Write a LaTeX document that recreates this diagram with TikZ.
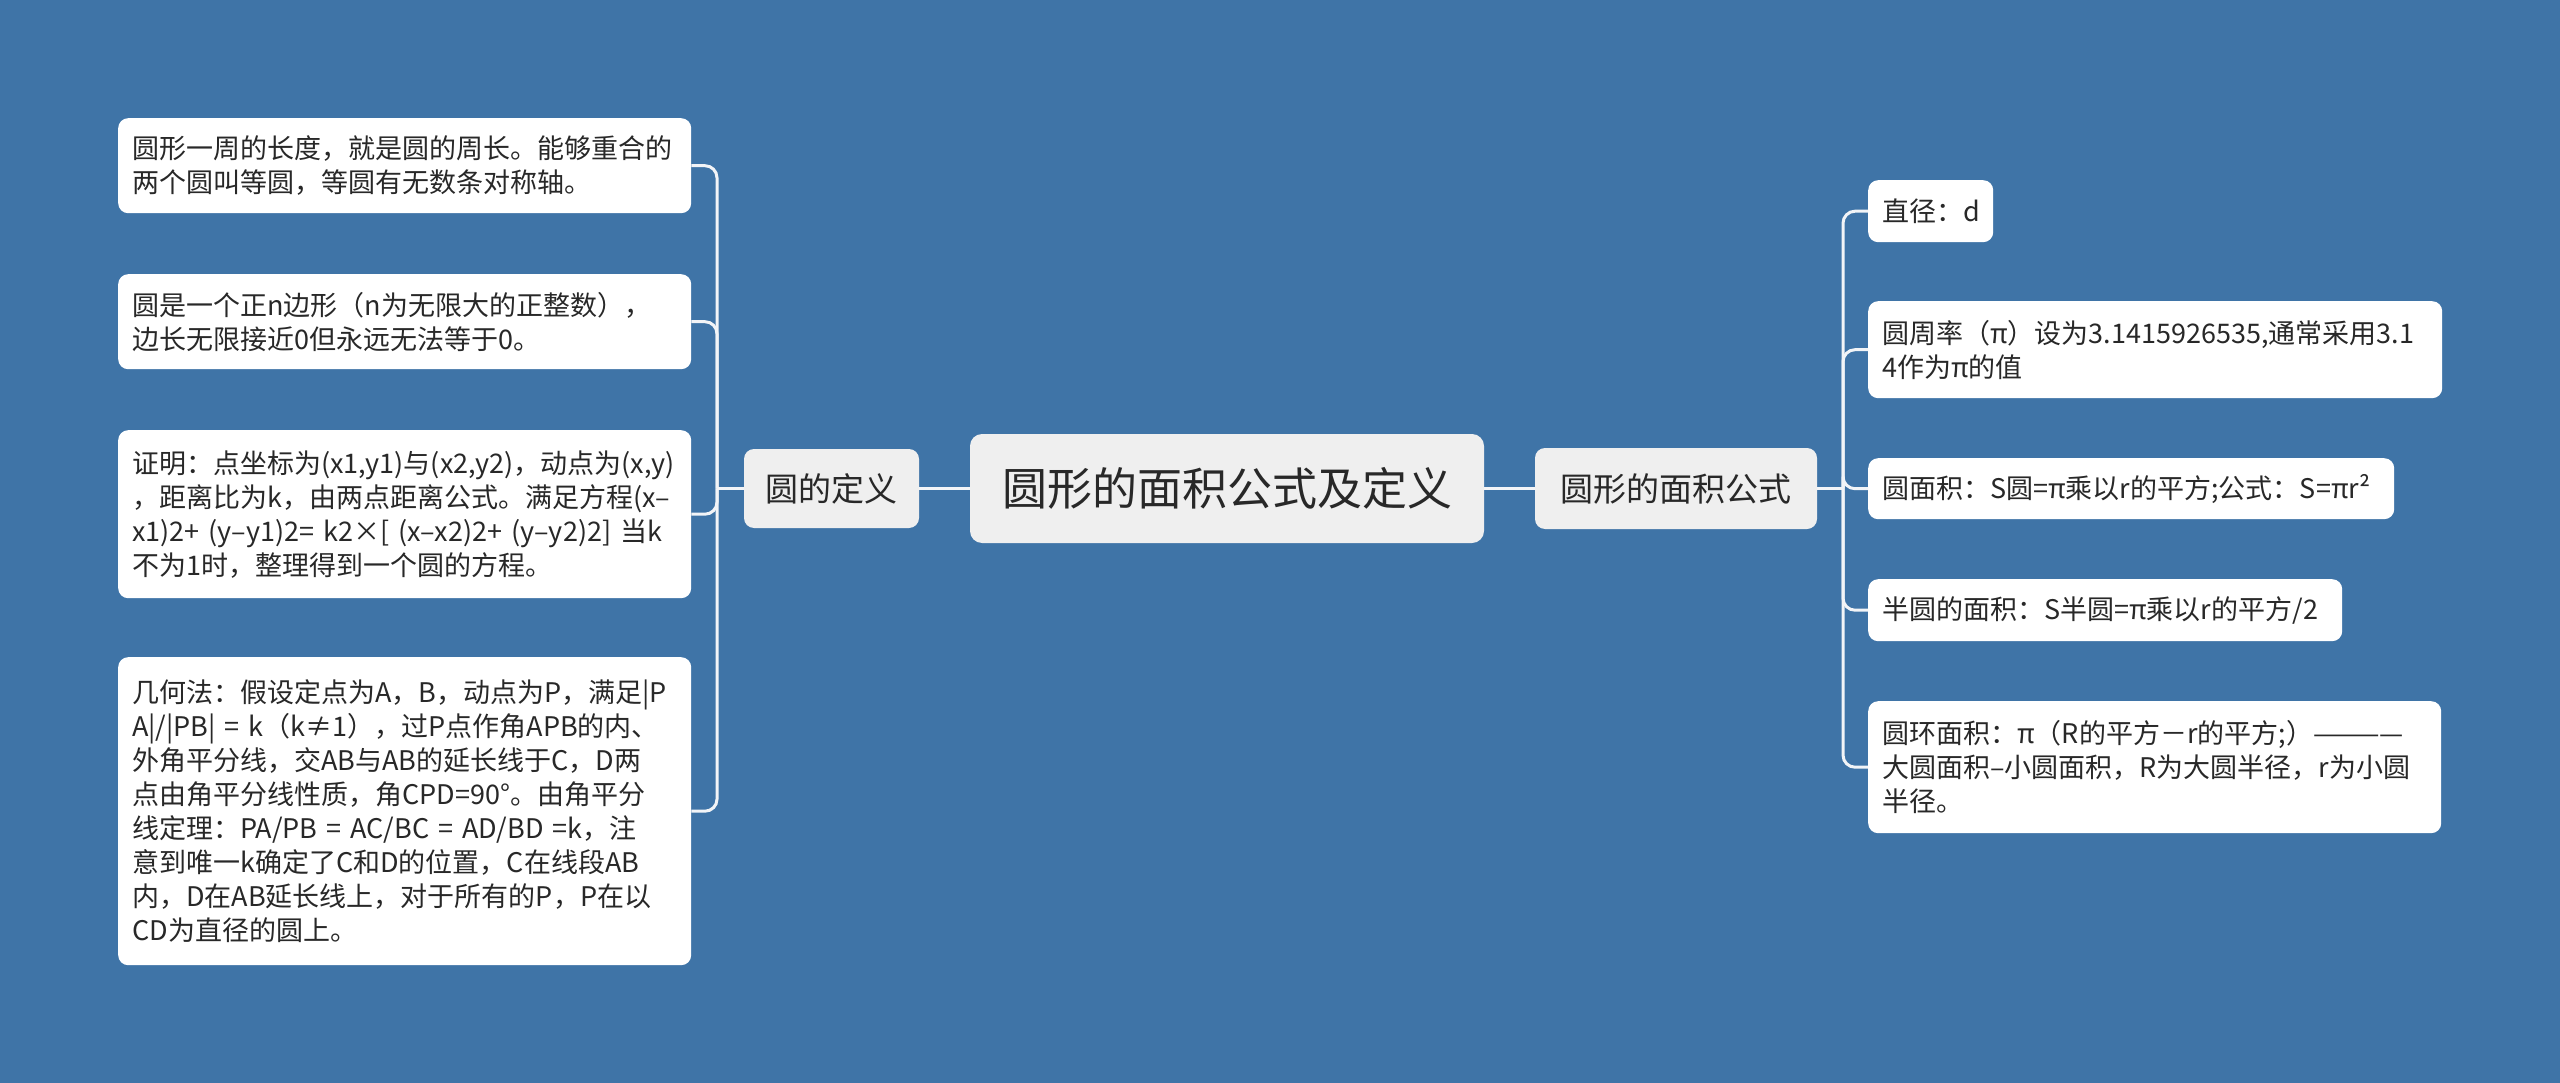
\documentclass[tikz,border=0pt]{standalone}
\usepackage{fontspec}
\setmainfont{Noto Sans CJK SC}
\definecolor{bg}{RGB}{63,116,167}
\definecolor{midgray}{RGB}{239,239,239}
\definecolor{txt}{RGB}{40,40,40}
\definecolor{linec}{RGB}{242,244,247}
\tikzset{
  leafbox/.style={fill=white, rounded corners=10pt, anchor=north west, inner xsep=14pt, inner ysep=0pt, align=left, text=txt, font=\fontsize{27}{34}\selectfont},
  midbox/.style={fill=midgray, rounded corners=10pt, inner sep=0pt, text=txt, font=\fontsize{33}{40}\selectfont},
  rootbox/.style={fill=midgray, rounded corners=12pt, inner sep=0pt, text=txt, font=\fontsize{45}{54}\selectfont},
  link/.style={draw=linec, line width=3pt, rounded corners=12pt}
}
\begin{document}
\begin{tikzpicture}[x=1pt,y=-1pt]
\fill[bg] (0,0) rectangle (2560,1083);
\useasboundingbox (0,0) rectangle (2560,1083);

\node[rootbox, minimum width=514pt, minimum height=109pt] (root) at (1227,488.5) {圆形的面积公式及定义};
\node[midbox, minimum width=175pt, minimum height=79pt] (m1) at (831.5,488.5) {圆的定义};
\node[midbox, minimum width=282pt, minimum height=81pt] (m2) at (1676,488.5) {圆形的面积公式};

% left leaves
\node[leafbox, text width=545pt, minimum height=95pt] (l1) at (118,118) {圆形一周的长度，就是圆的周长。能够重合的\\两个圆叫等圆，等圆有无数条对称轴。};
\node[leafbox, text width=545pt, minimum height=95pt] (l2) at (118,274) {圆是一个正n边形（n为无限大的正整数），\\边长无限接近0但永远无法等于0。};
\node[leafbox, text width=545pt, minimum height=168pt] (l3) at (118,430) {证明：点坐标为(x1,y1)与(x2,y2)，动点为(x,y)\\，距离比为k，由两点距离公式。满足方程(x–\\x1)2+ (y–y1)2= k2×[ (x–x2)2+ (y–y2)2] 当k\\不为1时，整理得到一个圆的方程。};
\node[leafbox, text width=545pt, minimum height=308pt] (l4) at (118,657) {几何法：假设定点为A，B，动点为P，满足|P\\A|/|PB| = k（k≠1），过P点作角APB的内、\\外角平分线，交AB与AB的延长线于C，D两\\点由角平分线性质，角CPD=90°。由角平分\\线定理：PA/PB = AC/BC = AD/BD =k，注\\意到唯一k确定了C和D的位置，C在线段AB\\内，D在AB延长线上，对于所有的P，P在以\\CD为直径的圆上。};

% right leaves
\node[leafbox, text width=97pt, minimum height=62pt] (r1) at (1868,180) {直径：d};
\node[leafbox, text width=546pt, minimum height=97pt] (r2) at (1868,301) {圆周率（π）设为3.1415926535,通常采用3.1\\4作为π的值};
\node[leafbox, text width=498pt, minimum height=61pt] (r3) at (1868,458) {圆面积：S圆=π乘以r的平方;公式：S=πr²};
\node[leafbox, text width=446pt, minimum height=62pt] (r4) at (1868,579) {半圆的面积：S半圆=π乘以r的平方/2};
\node[leafbox, text width=545pt, minimum height=132pt] (r5) at (1868,701) {圆环面积：π（R的平方－r的平方;）————\\大圆面积–小圆面积，R为大圆半径，r为小圆\\半径。};

\coordinate (jl) at (717,488.5);
\coordinate (jr) at (1843,488.5);

\draw[link] (root.west) -- (m1.east);
\draw[link] (root.east) -- (m2.west);
\draw[link] (m1.west) -- (jl);
\draw[link] (m2.east) -- (jr);
\foreach \n in {l1,l2,l3,l4} {\draw[link] (jl) |- (\n.east);}
\foreach \n in {r1,r2,r3,r4,r5} {\draw[link] (jr) |- (\n.west);}
\end{tikzpicture}
\end{document}
